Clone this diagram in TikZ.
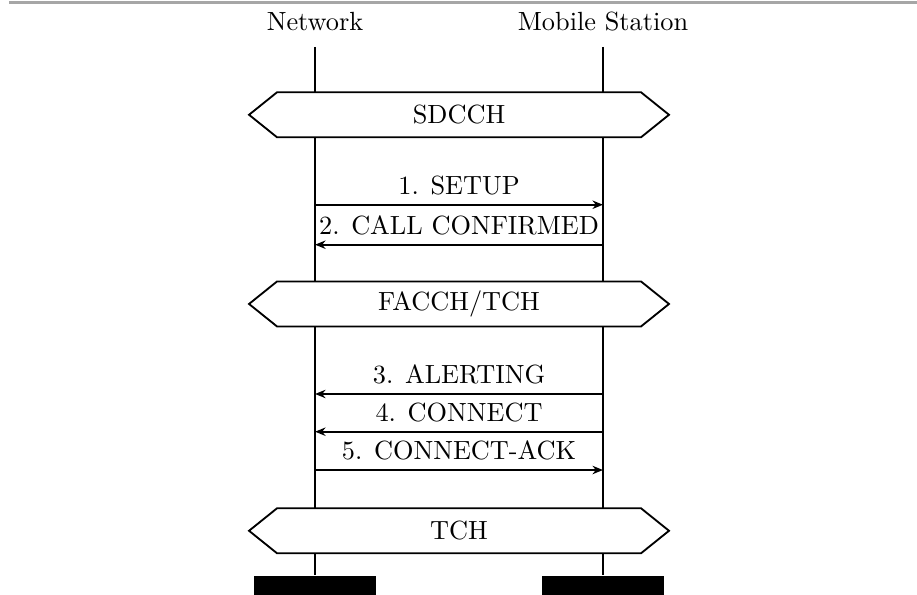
\documentclass[tikz,border=0pt]{standalone}
\usepackage{tikz}
\usetikzlibrary{shapes.symbols,arrows.meta}

\begin{document}
\begin{tikzpicture}[x=1cm,y=1cm,
life/.style={line width=.7pt},
msg/.style={-{Stealth[length=4pt,width=3.2pt,inset=1.3pt]},line width=.7pt},
chan/.style={signal,signal to=west and east,draw,fill=white,line width=.7pt,minimum width=5.612cm,minimum height=.601cm,signal pointer angle=77.6,inner sep=0pt},
bar/.style={fill=black,minimum width=1.64cm,minimum height=.32cm,inner sep=0pt}]
\useasboundingbox(0,0)rectangle(12.254,-7.938);
\draw[gray!70,line width=.8pt](.12,-.033)--(12.254,-.033);

\node(net)at(4.21,-.294){Network};
\node(ms)at(8.058,-.294){Mobile Station};
\coordinate(nettop)at(4.21,-.628);\coordinate(mstop)at(8.058,-.628);
\node[bar](netbar)at(4.21,-7.853){};\node[bar](msbar)at(8.058,-7.853){};
\draw[life](nettop)--(netbar);\draw[life](mstop)--(msbar);

\node[chan](sdcch)at(6.134,-1.534){SDCCH};
\node[chan](facch)at(6.134,-4.062){FACCH/TCH};
\node[chan](tch)at(6.134,-7.093){TCH};

\coordinate(n1)at(4.21,-2.736);\coordinate(m1)at(8.058,-2.736);
\coordinate(n2)at(4.21,-3.270);\coordinate(m2)at(8.058,-3.270);
\coordinate(n3)at(4.21,-5.265);\coordinate(m3)at(8.058,-5.265);
\coordinate(n4)at(4.21,-5.769);\coordinate(m4)at(8.058,-5.769);
\coordinate(n5)at(4.21,-6.281);\coordinate(m5)at(8.058,-6.281);
\draw[msg](n1)--node[above]{1. SETUP}(m1);
\draw[msg](m2)--node[above]{2. CALL CONFIRMED}(n2);
\draw[msg](m3)--node[above]{3. ALERTING}(n3);
\draw[msg](m4)--node[above]{4. CONNECT}(n4);
\draw[msg](n5)--node[above]{5. CONNECT-ACK}(m5);
\end{tikzpicture}
\end{document}
